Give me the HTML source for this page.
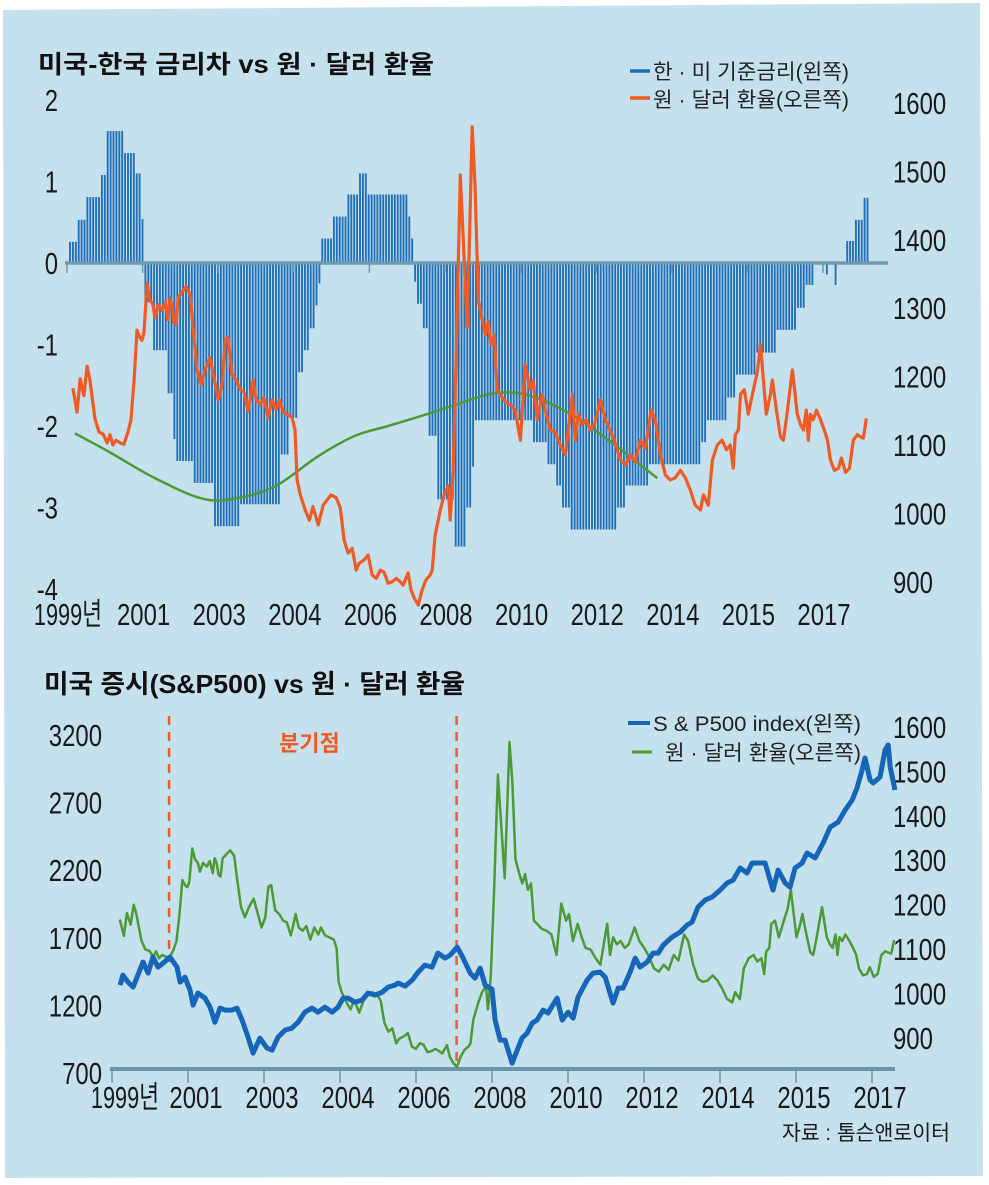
<!DOCTYPE html>
<html><head><meta charset="utf-8">
<style>
html,body{margin:0;padding:0;background:#fff;}
svg{display:block;}
.t{font-family:"Liberation Sans","Noto Sans CJK KR",sans-serif;fill:#1a1a1a;}
.ttl{font-family:"Liberation Sans","Noto Sans CJK KR",sans-serif;font-weight:bold;fill:#111;}
.lg{font-family:"Liberation Sans","Noto Sans CJK KR",sans-serif;fill:#222;}
</style></head>
<body>
<svg id="chart" width="989" height="1185" viewBox="0 0 989 1185" xmlns="http://www.w3.org/2000/svg">
<polygon points="3,10 980,3 983,1176 5,1178" fill="#c6e1ee"/>
<text class="ttl" x="38" y="73" font-size="25" textLength="396" lengthAdjust="spacingAndGlyphs">미국-한국 금리차 vs 원 · 달러 환율</text>
<text class="ttl" x="44" y="693" font-size="26" textLength="421" lengthAdjust="spacingAndGlyphs">미국 증시(S&amp;P500) vs 원 · 달러 환율</text>
<g>
<line x1="630" y1="71" x2="650" y2="71" stroke="#1f6fb8" stroke-width="3.5"/>
<text class="lg" x="653" y="79" font-size="21" textLength="196" lengthAdjust="spacingAndGlyphs">한 · 미 기준금리(왼쪽)</text>
<line x1="630" y1="98" x2="650" y2="98" stroke="#f05a24" stroke-width="3.5"/>
<text class="lg" x="653" y="107" font-size="21" textLength="196" lengthAdjust="spacingAndGlyphs">원 · 달러 환율(오른쪽)</text>
</g>
<g>
<line x1="628" y1="723" x2="650" y2="723" stroke="#1565b8" stroke-width="4"/>
<text class="lg" x="653" y="731" font-size="21" textLength="208" lengthAdjust="spacingAndGlyphs">S &amp; P500 index(왼쪽)</text>
<line x1="632" y1="752" x2="652" y2="752" stroke="#4b9a35" stroke-width="3"/>
<text class="lg" x="665" y="760" font-size="21" textLength="196" lengthAdjust="spacingAndGlyphs">원 · 달러 환율(오른쪽)</text>
</g>
<text class="ttl" x="279" y="751" font-size="22" style="fill:#f05a24">분기점</text>
<text class="t" x="782" y="1140" font-size="21" textLength="168" lengthAdjust="spacingAndGlyphs">자료 : 톰슨앤로이터</text>
<g id="gtop"></g>
<g id="gbot"></g>
</svg>
<script>
// ---- data ----
const rateLevels=[0.26,0.53,0.81,1.08,1.62,1.35,1.1,0.54,-0.48,-1.07,-1.6,-2.16,-2.43,-2.7,-3.23,-2.96,-2.35,-1.9,-1.34,-1.07,-0.8,-0.52,-0.25,0.3,0.3,0.57,0.84,1.1,0.84,0.57,0.3,-0.23,-0.5,-0.8,-2.12,-2.9,-3.48,-3.0,-2.5,-1.93,-2.2,-2.47,-2.73,-3.0,-3.27,-3.0,-2.73,-2.47,-2.2,-1.93,-1.65,-1.37,-1.1,-0.82,-0.55,-0.27,0,-0.14,0,-0.27,0,0.27,0.53,0.8];
const rateCounts=[3,3,5,2,6,4,2,1,3,5,2,1,6,7,9,14,3,3,2,2,2,1,1,2,2,5,4,3,14,1,1,1,2,2,3,6,4,2,1,20,5,3,2,3,16,3,8,18,2,7,3,7,7,7,3,3,4,1,2,1,3,3,3,2];
const fxMonths=[1.0,2.4,3.5,4.8,5.9,6.9,8.6,10.0,11.4,12.8,13.8,14.8,15.9,17.3,18.6,20.0,21.0,22.1,23.1,24.2,24.8,25.5,26.6,27.6,28.6,29.3,30.4,31.7,32.8,33.8,34.5,35.2,35.9,36.6,37.3,38.6,40.0,41.4,42.4,43.8,45.2,46.6,48.3,49.3,51.1,52.4,53.5,54.5,55.9,57.3,58.7,60.0,61.4,62.4,63.1,64.2,65.6,66.9,68.3,69.7,71.1,72.1,73.5,74.9,76.6,77.6,78.3,79.4,81.1,82.5,83.8,85.6,87.3,88.7,90.0,91.8,93.2,94.5,95.9,97.3,98.7,99.7,101.4,102.8,104.2,105.6,107.0,108.3,109.7,111.1,112.5,113.9,114.9,116.6,117.6,118.7,120.1,121.4,122.8,124.2,124.9,125.9,127.7,129.0,130.4,131.1,132.1,133.2,134.6,137.0,138.7,139.7,140.8,142.1,143.2,144.2,145.2,146.3,147.3,148.4,150.1,151.8,153.5,155.3,157.0,158.7,159.7,161.1,162.8,164.2,165.6,167.3,169.1,170.8,173.2,174.2,175.3,176.6,178.0,179.4,180.8,182.9,184.6,186.3,187.7,189.8,191.5,193.2,194.9,196.7,198.4,200.4,201.8,203.6,205.3,207.0,208.7,210.5,212.2,213.9,215.6,217.4,218.4,220.1,221.5,223.2,224.9,226.3,227.7,228.7,229.4,230.5,231.2,232.5,233.9,235.3,237.0,238.1,239.1,240.1,241.5,242.2,243.6,245.0,246.0,247.0,249.1,250.8,251.9,252.9,253.9,254.6,255.3,256.3,257.4,258.8,260.1,261.2,262.2,263.6,265.0,266.0,267.4,268.8,270.1,271.5,272.6,273.6,274.6];
const fxValues=[1183,1148,1197,1172,1215,1194,1139,1119,1116,1103,1115,1100,1107,1103,1101,1119,1136,1195,1268,1256,1253,1263,1336,1312,1305,1286,1305,1297,1309,1283,1315,1305,1279,1276,1315,1323,1332,1320,1272,1210,1188,1210,1228,1206,1166,1188,1254,1257,1203,1195,1181,1177,1149,1174,1195,1166,1159,1169,1140,1166,1151,1166,1149,1145,1140,1122,1049,1027,1005,990,1010,983,1012,1020,1027,1023,1008,961,942,949,917,927,932,939,910,905,917,914,898,900,905,900,895,913,888,876,866,888,903,910,917,968,1005,1027,1040,990,1063,1239,1495,1272,1565,1477,1312,1283,1261,1281,1247,1261,1181,1174,1163,1159,1151,1107,1217,1181,1195,1137,1174,1145,1122,1119,1100,1086,1174,1107,1145,1130,1137,1122,1130,1166,1137,1122,1107,1078,1071,1086,1075,1107,1095,1151,1137,1086,1056,1049,1052,1063,1052,1034,1012,1005,1027,1012,1078,1100,1107,1093,1100,1066,1115,1122,1174,1181,1145,1174,1207,1247,1195,1145,1174,1195,1151,1112,1107,1137,1210,1145,1130,1122,1151,1107,1145,1137,1151,1137,1122,1107,1078,1063,1066,1081,1060,1066,1107,1115,1112,1110,1139];
const trendMonths=[1.7,13.1,29.3,45.5,56.9,70.7,85.6,98.3,109.7,123.5,134.6,146.0,157.7,172.5,186.3,202.5];
const trendValues=[-2.09,-2.31,-2.64,-2.89,-2.89,-2.74,-2.37,-2.12,-2.0,-1.85,-1.72,-1.6,-1.62,-1.85,-2.19,-2.64];
const spMonths=[1.1,2.1,3.9,5.7,7.1,9.2,11.0,12.7,14.5,16.3,18.7,21.2,22.3,24.0,25.8,26.9,28.6,31.1,32.9,34.6,36.4,38.2,40.6,42.4,44.2,46.3,48.1,50.5,53.0,54.8,56.9,59.4,61.8,64.0,66.4,68.9,71.0,73.5,76.0,78.1,79.9,81.6,84.1,86.6,88.7,91.2,93.7,95.8,98.2,99.3,101.8,104.3,106.4,108.8,111.3,113.4,115.9,117.7,120.2,122.3,124.8,126.5,128.3,130.1,132.5,133.6,135.4,137.1,139.6,141.4,143.1,144.9,146.7,148.4,150.6,152.3,155.5,157.3,159.4,161.2,162.9,166.1,168.2,170.7,172.5,175.3,177.1,178.8,181.3,183.1,184.8,187.3,189.4,191.2,193.0,196.1,199.0,201.4,203.2,205.3,207.8,210.3,213.1,215.6,217.7,220.2,222.6,224.4,226.5,229.0,231.8,233.6,236.1,237.8,239.6,242.1,243.8,246.7,249.5,252.0,254.8,257.3,259.8,261.5,263.3,264.3,266.1,267.2,269.6,271.4,272.5,273.2,274.9];
const spValues=[1350,1424,1372,1335,1409,1520,1439,1557,1483,1513,1557,1483,1372,1409,1313,1202,1291,1254,1187,1076,1180,1165,1165,1180,1091,965,847,958,884,869,965,1017,1032,1076,1150,1180,1150,1187,1150,1187,1254,1254,1224,1239,1291,1276,1298,1335,1350,1365,1343,1387,1446,1498,1483,1587,1550,1572,1631,1550,1439,1402,1476,1350,1320,1091,943,943,773,869,958,995,1069,1091,1165,1143,1254,1091,1150,1106,1261,1387,1439,1446,1409,1217,1328,1328,1446,1550,1483,1520,1587,1587,1646,1705,1742,1794,1816,1927,1979,2001,2053,2105,2127,2216,2179,2253,2253,2253,2053,2201,2105,2075,2216,2253,2327,2290,2401,2519,2556,2645,2719,2808,2941,3030,2867,2845,2889,3089,3126,2963,2793];
const topXLabels=["1999년","2001","2003","2004","2006","2008","2010","2012","2014","2015","2017"];
const topLeftTicks=[2,1,0,-1,-2,-3,-4];
const rightTicksTop=[1600,1500,1400,1300,1200,1100,1000,900];
const botLeftTicks=[3200,2700,2200,1700,1200,700];
const rightTicksBot=[1600,1500,1400,1300,1200,1100,1000,900];
const dividerMonths=[18.4,120.0];

// ---- scales ----
const xT=m=>70+m*2.9, yL=v=>263-v*81.5, yR=v=>103+(1600-v)*0.684;
const xB=m=>117+m*2.83, yS=v=>735+(3200-v)*0.1352, yG=v=>742+(1565-v)*0.465, yRB=v=>727+(1600-v)*0.444;
const NS="http://www.w3.org/2000/svg";
function mk(tag,attrs,parent){const e=document.createElementNS(NS,tag);for(const k in attrs)e.setAttribute(k,attrs[k]);parent.appendChild(e);return e;}
function tw(s){let w=0;for(const c of s){w+= /[0-9]/.test(c)?13.3:(c==='-'?8:(c==='년'?15:13));}return w;}
function txt(s,attrs,parent){attrs.textLength=tw(s);attrs.lengthAdjust='spacingAndGlyphs';const e=mk('text',attrs,parent);e.textContent=s;return e;}
function smooth(pts){let d='M'+pts[0][0]+','+pts[0][1];for(let i=0;i<pts.length-1;i++){const p0=pts[i-1]||pts[i],p1=pts[i],p2=pts[i+1],p3=pts[i+2]||p2;d+=' C'+(p1[0]+(p2[0]-p0[0])/6)+','+(p1[1]+(p2[1]-p0[1])/6)+' '+(p2[0]-(p3[0]-p1[0])/6)+','+(p2[1]-(p3[1]-p1[1])/6)+' '+p2[0]+','+p2[1];}return d;}
function pts(ms,vs,fx,fy){const n=Math.min(ms.length,vs.length);const a=[];for(let i=0;i<n;i++)a.push(fx(ms[i]).toFixed(1)+','+fy(vs[i]).toFixed(1));return a.join(' ');}
const gTop=document.getElementById('gtop'), gBot=document.getElementById('gbot');

// top chart bars
let idx=0;
rateLevels.forEach((lv,k)=>{for(let j=0;j<rateCounts[k];j++){if(lv!==0){const x=xT(idx);
const b=mk('line',{x1:x,x2:x,y1:yL(0),y2:yL(lv),stroke:'#2270b9','stroke-width':1.9},gTop);

}idx++;}});
const za=mk('line',{x1:65,x2:888,y1:263,y2:263,stroke:'#6f9bb0','stroke-width':3.5},gTop);


topXLabels.forEach((s,i)=>{const x=67+i*75.6;
const tk=mk('line',{x1:x,x2:x,y1:263,y2:273,stroke:'#6f9bb0','stroke-width':1.5},gTop);


const t=txt(s,{class:'t',x:x+1,y:625,'font-size':31,'text-anchor':'middle'},gTop);

});
topLeftTicks.forEach(v=>{const t=txt(String(v),{class:'t',x:58,y:yL(v)+11,'font-size':31,'text-anchor':'end'},gTop);

});
rightTicksTop.forEach(v=>{const t=txt(String(v),{class:'t',x:893,y:yR(v)+11,'font-size':31},gTop);

});
const tr=mk('path',{d:smooth(trendMonths.map((m,i)=>[xT(m),yL(trendValues[i])])),fill:'none',stroke:'#4b9a35','stroke-width':2.5},gTop);


const fxl=mk('polyline',{points:pts(fxMonths,fxValues,xT,yR),fill:'none',stroke:'#f05a24','stroke-width':3.2,'stroke-linejoin':'round'},gTop);



// bottom chart
const ba=mk('line',{x1:110,x2:895,y1:1069,y2:1069,stroke:'#6b95ab','stroke-width':4},gBot);


topXLabels.forEach((s,i)=>{const x=112+i*76;
const tk=mk('line',{x1:x,x2:x,y1:1069,y2:1083,stroke:'#6b95ab','stroke-width':1.5},gBot);


const t=txt(s,{class:'t',x:x+(i===0?13:8),y:1108,'font-size':31,'text-anchor':'middle'},gBot);

});
botLeftTicks.forEach(v=>{const t=txt(String(v),{class:'t',x:102,y:yS(v)+11,'font-size':31,'text-anchor':'end'},gBot);

});
rightTicksBot.forEach(v=>{const t=txt(String(v),{class:'t',x:893,y:yRB(v)+11,'font-size':31},gBot);

});
dividerMonths.forEach((m,i)=>{const x=xB(m);
const d=mk('line',{x1:x,x2:x,y1:716,y2:i===0?962:1066,stroke:'#f05a24','stroke-width':2.5,'stroke-dasharray':'9,7'},gBot);

});
const gl=mk('polyline',{points:pts(fxMonths,fxValues,xB,yG),fill:'none',stroke:'#4b9a35','stroke-width':2.5,'stroke-linejoin':'round'},gBot);


const sp=mk('polyline',{points:pts(spMonths,spValues,xB,yS),fill:'none',stroke:'#1565b8','stroke-width':5,'stroke-linejoin':'round'},gBot);


</script>
</body></html>
